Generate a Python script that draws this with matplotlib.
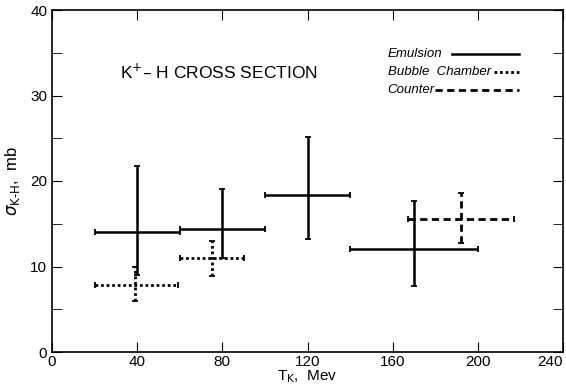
import matplotlib
matplotlib.use("Agg")
import matplotlib.pyplot as plt
import numpy as np

# Emulsion data: center x, x range, center y, y range
em_x = [40, 80, 120, 170]
em_xlo = [20, 60, 100, 140]
em_xhi = [60, 100, 140, 200]
em_y = [14.0, 14.4, 18.4, 12.0]
em_ylo = [9.0, 11.0, 13.2, 7.7]
em_yhi = [21.7, 19.1, 25.1, 17.7]

bc_x = [39, 75]
bc_xlo = [20, 60]
bc_xhi = [59, 90]
bc_y = [7.8, 11.0]
bc_ylo = [6.0, 8.9]
bc_yhi = [9.9, 13.0]

ct_x = [192]
ct_xlo = [167]
ct_xhi = [217]
ct_y = [15.6]
ct_ylo = [12.8]
ct_yhi = [18.6]

xticks = [0, 40, 80, 120, 160, 200, 240]
yticks = [0, 10, 20, 30, 40]
legend_labels = ['Emulsion', 'Bubble  Chamber', 'Counter']

plt.rcParams['font.family'] = ['Liberation Sans', 'DejaVu Sans']

fig = plt.figure(figsize=(5.66, 3.85), dpi=100)
ax = fig.add_axes([52/566, 1-352/385, (563-52)/566, (352-10)/385])

DOT = (0, (1, 1))
DASH = (0, (2.6, 1.6))

def draw(x, xlo, xhi, y, ylo, yhi, ls, lw):
    x = np.array(x); y = np.array(y)
    xerr = [x - np.array(xlo), np.array(xhi) - x]
    yerr = [y - np.array(ylo), np.array(yhi) - y]
    c = ax.errorbar(x, y, xerr=xerr, yerr=yerr, fmt='none', ecolor='black',
                    elinewidth=lw, capsize=2.5, capthick=1.3)
    for lc in c[2]:
        lc.set_linestyle(ls)

draw(em_x, em_xlo, em_xhi, em_y, em_ylo, em_yhi, '-', 1.8)
draw(bc_x, bc_xlo, bc_xhi, bc_y, bc_ylo, bc_yhi, DOT, 2.0)
draw(ct_x, ct_xlo, ct_xhi, ct_y, ct_ylo, ct_yhi, DASH, 2.0)

ax.set_xlim(0, 240)
ax.set_ylim(0, 40)
ax.set_xticks(xticks)
ax.set_yticks(yticks)
ax.set_yticks([5, 15, 25, 35], minor=True)
ax.tick_params(which='both', direction='in', top=True, right=True, labelsize=11)
ax.tick_params(which='both', length=7)
ax.tick_params(axis='x', pad=2)
for s in ax.spines.values():
    s.set_linewidth(1.2)
ax.get_xticklabels()[-1].set_horizontalalignment('right')

ax.set_xlabel(r'T$_\mathrm{K}$,  Mev', fontsize=11, labelpad=0)
ax.set_ylabel(r'$\sigma_\mathrm{K\text{-}H}$,  mb', fontsize=12, labelpad=6)

ax.text(32, 32.7, r'K$^{+}$– H CROSS SECTION', fontsize=12.5, va='center')

# manual legend: text left-aligned, line after text
leg_y = [34.9, 32.7, 30.6]
leg_styles = [('-', 1.8), (DOT, 2.0), (DASH, 2.0)]
leg_start = [187.8, 207.5, 180.0]
for lab, yy, (ls, lw), xs in zip(legend_labels, leg_y, leg_styles, leg_start):
    ax.text(157.6, yy, lab, fontsize=9.5, style='italic', va='center')
    ax.plot([xs, 219.3], [yy, yy], color='black', ls=ls, lw=lw)

fig.savefig('out.png', dpi=100)
